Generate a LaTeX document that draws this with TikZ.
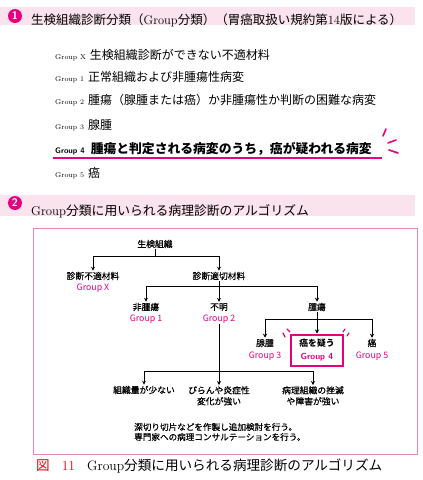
\documentclass[tikz,border=0pt]{standalone}
\usepackage{fontspec}
\newfontfamily\jp{Noto Sans CJK JP}
\newfontfamily\jpm[FakeBold=0.6]{Noto Sans CJK JP}
\usetikzlibrary{arrows.meta}

\definecolor{pinkmain}{HTML}{E4007F}
\definecolor{pinkband}{HTML}{FAE3EC}
\definecolor{pinkframe}{HTML}{EE86B4}
\definecolor{redcap}{HTML}{E60012}

\tikzset{
  flow/.style={font=\jpm\fontsize{8.8}{11}\selectfont, inner sep=1pt, align=center},
  grp/.style={font=\jp\fontsize{8.8}{11}\selectfont, text=pinkmain, inner sep=1pt},
  arr/.style={-{Stealth[length=4pt,width=4pt]}, line width=0.8pt},
  conn/.style={line width=0.8pt},
  numdot/.style={circle, fill=pinkmain, text=white, inner sep=0pt, minimum size=14pt,
    font=\sffamily\bfseries\fontsize{11}{11}\selectfont},
  listline/.style={anchor=base west, inner sep=0pt, font=\jp\fontsize{12}{14}\selectfont},
  spark/.style={pinkmain, line width=1.6pt, line cap=round}
}
\newcommand{\grouptag}[1]{{\rmfamily\fontsize{7}{8}\selectfont Group #1}\hspace{4pt}}

\begin{document}
\begin{tikzpicture}[x=1pt, y=-1pt]
    \useasboundingbox (0,0) rectangle (423,480);

    % Section 1 header
    \fill[pinkband] (0,7) rectangle (415,25);
    \node[numdot] (num1) at (15,16) {1};
    \node[anchor=west, inner sep=0pt, font=\fontsize{12.5}{14}\selectfont] (head1) at (31,20)
      {{\jp 生検組織診断分類（}Group{\jp 分類）（胃癌取扱い規約第}14{\jp 版による）}};

    % Group list
    \node[listline] (gx) at (55,59) {\grouptag{X}生検組織診断ができない不適材料};
    \node[listline] (g1) at (55,81) {\grouptag{1}正常組織および非腫瘍性病変};
    \node[listline] (g2) at (55,104) {\grouptag{2}腫瘍（腺腫または癌）か非腫瘍性か判断の困難な病変};
    \node[listline] (g3) at (55,129) {\grouptag{3}腺腫};
    \node[listline, font=\jp\bfseries\fontsize{12.8}{14}\selectfont] (g4) at (55,153)
      {{\sffamily\bfseries\fontsize{8}{9}\selectfont Group 4}\hspace{6pt}腫瘍と判定される病変のうち，癌が疑われる病変};
    \node[listline] (g5) at (55,177) {\grouptag{5}癌};

    % Underline and sparks for Group 4
    \draw[pinkmain, line width=1.6pt] (53,158) -- (382,158);
    \draw[spark] (386,129) -- (383,136);
    \draw[spark] (388,143) -- (396,140);
    \draw[spark] (389,150) -- (398,153);

    % Section 2 header
    \fill[pinkband] (0,195) rectangle (415,216);
    \node[numdot] (num2) at (15,203) {2};
    \node[anchor=west, inner sep=0pt, font=\fontsize{12.8}{14}\selectfont] (head2) at (31,211)
      {Group{\jp 分類に用いられる病理診断のアルゴリズム}};

    % Frame
    \draw[pinkframe, line width=0.8pt] (33,228) rectangle (417,454);

    % Flowchart nodes
    \node[flow] (biopsy) at (155,244) {生検組織};
    \node[flow] (unfit) at (93,276) {診断不適材料};
    \node[grp] (gX) at (93,288) {Group X};
    \node[flow] (fit) at (219,276) {診断適切材料};

    \node[flow] (nontumor) at (146,307) {非腫瘍};
    \node[grp] (gA) at (146,319) {Group 1};
    \node[flow] (unclear) at (219,307) {不明};
    \node[grp] (gB) at (219,319) {Group 2};
    \node[flow] (tumor) at (317,307) {腫瘍};

    \node[flow] (adenoma) at (265,343) {腺腫};
    \node[grp] (gC) at (265,356) {Group 3};
    \node[draw=pinkmain, line width=2pt, minimum width=52pt, minimum height=31pt, inner sep=2pt,
      align=center] (suspect) at (317,350)
      {{\jp\bfseries\fontsize{8.8}{11}\selectfont 癌を疑う}\\[1pt]
       {\sffamily\bfseries\fontsize{8.8}{11}\selectfont\color{pinkmain} Group 4}};
    \node[flow] (cancer) at (372,343) {癌};
    \node[grp] (gE) at (372,356) {Group 5};

    \node[flow] (scant) at (144,390) {組織量が少ない};
    \node[flow, anchor=north] (erosion) at (219,385) {びらんや炎症性\\変化が強い};
    \node[flow, anchor=north] (crush) at (313,385) {病理組織の挫滅\\や障害が強い};

    \node[flow, anchor=west, align=left, font=\jpm\fontsize{8.6}{10}\selectfont] (note) at (133,432)
      {深切り切片などを作製し追加検討を行う。\\専門家への病理コンサルテーションを行う。};

    % Connectors
    \coordinate (j1) at (155,256);
    \coordinate (j2) at (219,286);
    \coordinate (j3) at (317,319);
    \coordinate (j4) at (219,371);

    \draw[conn] (biopsy) -- (j1);
    \draw[arr] (j1) -| (unfit);
    \draw[arr] (j1) -| (fit);

    \draw[conn] (fit) -- (j2);
    \draw[arr] (j2) -| (nontumor);
    \draw[arr] (j2) -- (unclear);
    \draw[arr] (j2) -| (tumor);

    \draw[conn] (tumor) -- (j3);
    \draw[arr] (j3) -| (adenoma);
    \draw[arr] (j3) -- (suspect);
    \draw[arr] (j3) -| (cancer);

    \draw[conn] (gB) -- (j4);
    \draw[arr] (j4) -| (scant);
    \draw[arr] (j4) -- (erosion);
    \draw[arr] (j4) -| (crush);

    % Sparks round the Group 4 box
    \draw[spark, line width=1.2pt] (283,333) -- (285,337);
    \draw[spark, line width=1.2pt] (287,329) -- (290,332);
    \draw[spark, line width=1.2pt] (349,333) -- (347,336);
    \draw[spark, line width=1.2pt] (345,329) -- (343,332);

    % Caption
    \node[anchor=west, inner sep=0pt, font=\fontsize{13.6}{15}\selectfont] (caption) at (36,466)
      {{\jp\color{redcap}図}\hspace{12pt}{\color{redcap}11}\hspace{12pt}Group{\jp 分類に用いられる病理診断のアルゴリズム}};
\end{tikzpicture}
\end{document}
